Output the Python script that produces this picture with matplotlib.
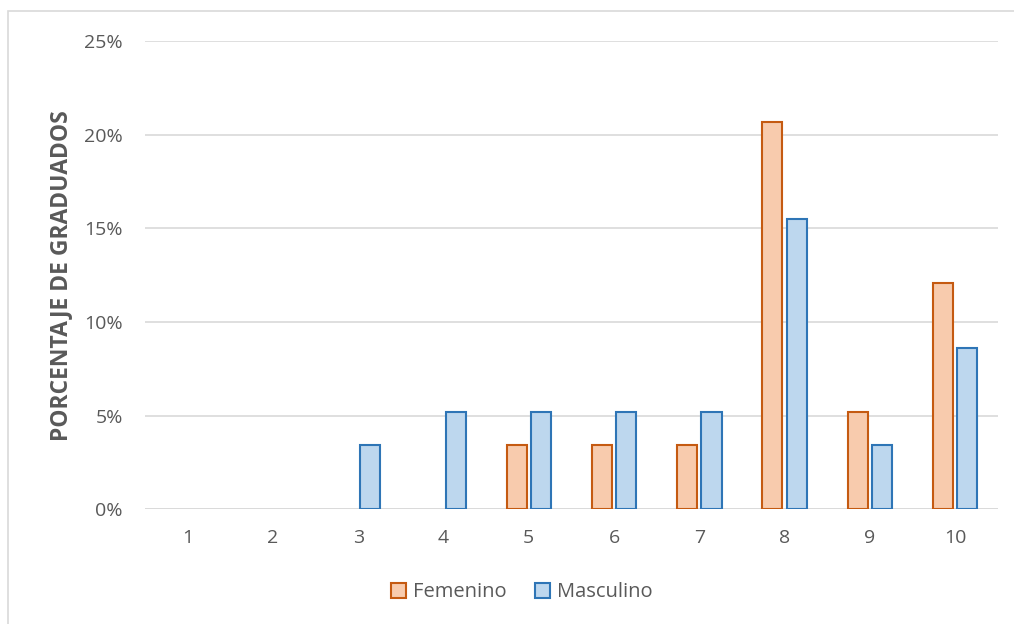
import matplotlib
matplotlib.use("Agg")
import matplotlib.pyplot as plt
from matplotlib.patches import Rectangle, Patch
from matplotlib.ticker import FuncFormatter, MultipleLocator

categories = ["1", "2", "3", "4", "5", "6", "7", "8", "9", "10"]
femenino = [0, 0, 0, 0, 3.45, 3.45, 3.45, 20.69, 5.17, 12.07]
masculino = [0, 0, 3.45, 5.17, 5.17, 5.17, 5.17, 15.52, 3.45, 8.62]

plt.rcParams["font.family"] = ["Open Sans", "DejaVu Sans"]

fig = plt.figure(figsize=(10.14, 6.24), dpi=100)
ax = fig.add_axes([0.143, 0.184, 0.841, 0.750])

x = list(range(len(categories)))
w = 0.235
off = 0.143

series = [
    ("Femenino", femenino, -off, "#F8CBAD", "#C55A11"),
    ("Masculino", masculino, off, "#BDD7EE", "#2E75B6"),
]

handles = []
for label, values, shift, face, edge in series:
    bars = ax.bar([i + shift for i in x], values, width=w, color=face,
                  edgecolor=edge, linewidth=1.5, zorder=3)
    # empty categories get no outline
    for b, v in zip(bars, values):
        if v == 0:
            b.set_visible(False)
    handles.append(Patch(facecolor=face, edgecolor=edge, linewidth=1.5,
                         label=label))

ax.set_xlim(-0.5, len(categories) - 0.5)
ax.set_ylim(0, 25)
ax.yaxis.set_major_locator(MultipleLocator(5))
ax.yaxis.set_major_formatter(FuncFormatter(lambda v, p: f"{v:.0f}%"))
ax.set_xticks(x)
ax.set_xticklabels(categories)
ax.grid(axis="y", color="#D9D9D9", linewidth=1.2, zorder=0)
for s in ax.spines.values():
    s.set_visible(False)
ax.axhline(0, color="#D9D9D9", linewidth=1.2, zorder=2)
ax.tick_params(axis="both", length=0, labelsize=14, colors="#595959")
ax.tick_params(axis="x", pad=14)
ax.tick_params(axis="y", pad=16)

ax.set_ylabel("PORCENTAJE DE GRADUADOS", fontsize=16.5, fontweight="bold",
              color="#595959", labelpad=8)

fig.legend(handles=handles, loc="center", bbox_to_anchor=(0.515, 0.051),
           ncol=2, frameon=False, fontsize=14.5, handlelength=0.75,
           handleheight=0.75, handletextpad=0.35, columnspacing=1.4,
           labelcolor="#595959")

fig.patches.append(Rectangle((8 / 1014, -0.1), 1.2, 1 - 11 / 624 + 0.1,
                             transform=fig.transFigure, fill=False,
                             edgecolor="#D9D9D9", linewidth=1.2))

fig.savefig("out.png", dpi=100, facecolor="white")
